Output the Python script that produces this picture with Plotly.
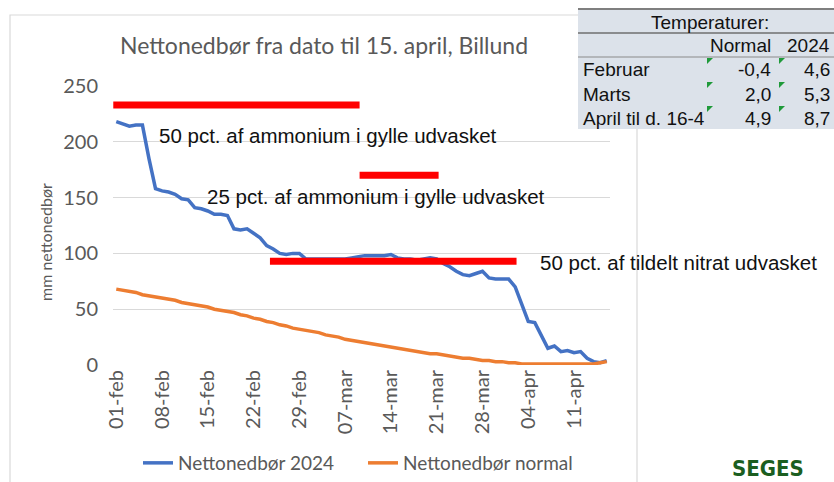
import pandas as pd
import plotly.graph_objects as go

# ---------------- data ----------------
start_date = "2024-02-01"
netto_2024 = [218, 216, 214, 215, 215, 185, 158, 156, 155, 153,
              149, 148, 141, 140, 138, 135, 135, 134, 122, 121,
              122, 118, 114, 107, 104, 100, 99, 100, 100, 95,
              95, 95, 95, 95, 95, 95, 96, 97, 98, 98,
              98, 98, 99, 96, 95, 95, 94, 95, 96, 95,
              91, 88, 84, 81, 80, 82, 84, 78, 77, 77,
              77, 70, 55, 39, 38, 27, 15, 17, 12, 13,
              11, 12, 6, 3, 2, 4]
netto_normal = [68, 67, 66, 65, 63, 62, 61, 60, 59, 58, 56,
                55, 54, 53, 52, 50, 49, 48, 47, 45, 44,
                42, 41, 39, 38, 36, 35, 33, 32, 31, 30,
                29, 27, 26, 25, 23, 22, 21, 20, 19, 18,
                17, 16, 15, 14, 13, 12, 11, 10, 10, 9,
                8, 7, 6, 6, 5, 4, 4, 3, 3, 2,
                2, 1, 1, 1, 1, 1, 1, 1, 1, 1,
                1, 1, 1, 2, 3]
dates = pd.date_range(start_date, periods=len(netto_2024))

tick_dates = ["2024-02-01", "2024-02-08", "2024-02-15", "2024-02-22", "2024-02-29",
              "2024-03-07", "2024-03-14", "2024-03-21", "2024-03-28", "2024-04-04",
              "2024-04-11"]
tick_text = ["01-feb", "08-feb", "15-feb", "22-feb", "29-feb", "07-mar",
             "14-mar", "21-mar", "28-mar", "04-apr", "11-apr"]

# red threshold bars: start, end, level (mm)
red_start = ["2024-01-31 13:00", "2024-03-09 05:00", "2024-02-24 12:00"]
red_end = ["2024-03-09 05:00", "2024-03-21 07:00", "2024-04-02 05:00"]
red_level = [233, 170, 93]
red_text = ["50 pct. af ammonium i gylle udvasket",
            "25 pct. af ammonium i gylle udvasket",
            "50 pct. af tildelt nitrat udvasket"]
red_text_x = ["2024-02-07 07:00", "2024-02-14 12:00", "2024-04-05 10:00"]
red_text_y = [206, 151, 92]

# temperature table
temp_title = "Temperaturer:"
temp_cols = ["Normal", "2024"]
temp_rows = ["Februar", "Marts", "April til d. 16-4"]
temp_normal = ["-0,4", "2,0", "4,9"]
temp_2024 = ["4,6", "5,3", "8,7"]

# ---------------- layout helpers ----------------
W, H = 834, 482
L, R, T, B = 113, 224, 86, 117
PW, PH = W - L - R, H - T - B


def px(x):
    return (x - L) / PW


def py(y):
    return (H - B - y) / PH


CAL = "Lato, Carlito, Calibri, sans-serif"
ARIAL = "Liberation Sans, Arial, sans-serif"
GREY = "#595959"

fig = go.Figure()

fig.add_trace(go.Scatter(x=dates, y=netto_2024, mode="lines", name="Nettonedbør 2024",
                         line=dict(color="#4472C4", width=3.5)))
fig.add_trace(go.Scatter(x=dates, y=netto_normal, mode="lines", name="Nettonedbør normal",
                         line=dict(color="#ED7D31", width=3.5)))

for s, e, lv in zip(red_start, red_end, red_level):
    fig.add_trace(go.Scatter(x=[s, e], y=[lv, lv], mode="lines", showlegend=False,
                             hoverinfo="skip", line=dict(color="#FF0000", width=7)))

annotations = []
for tx, ty, tt in zip(red_text_x, red_text_y, red_text):
    annotations.append(dict(x=tx, y=ty, xref="x", yref="y", text=tt, showarrow=False,
                            xanchor="left", yanchor="middle",
                            font=dict(family=ARIAL, size=20.5, color="#111111")))

shapes = []
# chart frame
shapes.append(dict(type="rect", xref="paper", yref="paper",
                   x0=px(10), x1=px(637), y0=py(500), y1=py(15),
                   line=dict(color="#d9d9d9", width=1.2), fillcolor="rgba(0,0,0,0)", layer="below"))

# table background
tab_l, tab_r = 578, 840
row_top = [9, 33, 57, 81, 105]
row_h = 24
tab_b = row_top[-1] + row_h
shapes.append(dict(type="rect", xref="paper", yref="paper",
                   x0=px(tab_l), x1=px(tab_r), y0=py(tab_b), y1=py(row_top[0]),
                   line=dict(width=0), fillcolor="#dce2ea"))
for yy, col, wdt in [(row_top[0], "#7f7f7f", 2), (row_top[1], "#6f6f6f", 1.5), (row_top[2], "#8a8a8a", 1)]:
    shapes.append(dict(type="line", xref="paper", yref="paper",
                       x0=px(tab_l), x1=px(tab_r), y0=py(yy), y1=py(yy),
                       line=dict(color=col, width=wdt)))
# green error indicators
for r in range(len(temp_rows)):
    ytop = row_top[2 + r] + 1
    for xc in (707, 779):
        path = "M {} {} L {} {} L {} {} Z".format(px(xc), py(ytop), px(xc + 6), py(ytop),
                                                  px(xc), py(ytop + 6))
        shapes.append(dict(type="path", xref="paper", yref="paper", path=path,
                           fillcolor="#1f9a3a", line=dict(width=0)))

annotations.append(dict(x=px(710), y=py(22), xref="paper", yref="paper", text=temp_title,
                        showarrow=False, xanchor="center", yanchor="middle",
                        font=dict(family=ARIAL, size=19, color="#111111")))
for cx, ct in zip((773, 832), temp_cols):
    annotations.append(dict(x=px(cx), y=py(46), xref="paper", yref="paper", text=ct,
                            showarrow=False, xanchor="right", yanchor="middle",
                            font=dict(family=ARIAL, size=19, color="#111111")))
for i, (lab, vn, v24) in enumerate(zip(temp_rows, temp_normal, temp_2024)):
    yc = py(70 + 24 * i)
    annotations.append(dict(x=px(581), y=yc, xref="paper", yref="paper", text=lab,
                            showarrow=False, xanchor="left", yanchor="middle",
                            font=dict(family=ARIAL, size=19, color="#111111")))
    annotations.append(dict(x=px(773), y=yc, xref="paper", yref="paper", text=vn,
                            showarrow=False, xanchor="right", yanchor="middle",
                            font=dict(family=ARIAL, size=19, color="#111111")))
    annotations.append(dict(x=px(832), y=yc, xref="paper", yref="paper", text=v24,
                            showarrow=False, xanchor="right", yanchor="middle",
                            font=dict(family=ARIAL, size=19, color="#111111")))

# y axis title
annotations.append(dict(x=px(46), y=py(242), xref="paper", yref="paper", text="mm nettonedbør",
                        showarrow=False, textangle=-90, xanchor="center", yanchor="middle",
                        font=dict(family=CAL, size=16, color=GREY)))
# logo text
annotations.append(dict(x=px(768), y=py(468), xref="paper", yref="paper", text="<b>SEGES</b>",
                        showarrow=False, xanchor="center", yanchor="middle",
                        font=dict(family="Liberation Sans Narrow, DejaVu Sans Condensed, sans-serif",
                                  size=22, color="#1b5e20")))

fig.update_layout(
    width=W, height=H,
    margin=dict(l=L, r=R, t=T, b=B, autoexpand=False),
    paper_bgcolor="white", plot_bgcolor="white",
    title=dict(text="Nettonedbør fra dato til 15. april, Billund", x=324 / W, xanchor="center",
               y=1 - 46 / H, yanchor="middle", font=dict(family=CAL, size=23, color=GREY)),
    xaxis=dict(type="date", range=["2024-01-31 12:00", "2024-04-16 12:00"],
               tickvals=tick_dates, ticktext=tick_text, tickangle=-90,
               showgrid=False, showline=False, zeroline=False, ticks="",
               tickfont=dict(family=CAL, size=20, color=GREY)),
    yaxis=dict(range=[0, 250], dtick=50, showgrid=True, gridcolor="#d9d9d9", gridwidth=1,
               zeroline=False, showline=False, ticks="", ticklabelstandoff=14,
               tickfont=dict(family=CAL, size=20, color=GREY)),
    legend=dict(orientation="h", x=px(138), xanchor="left", y=py(463), yanchor="middle",
                entrywidth=180, entrywidthmode="pixels",
                font=dict(family=CAL, size=19, color=GREY), bgcolor="rgba(0,0,0,0)"),
    shapes=shapes,
    annotations=annotations,
    showlegend=True,
)

fig.write_html("out.html", config={"displayModeBar": False},
               post_script="document.body.style.margin='0';document.body.style.overflow='hidden';")
